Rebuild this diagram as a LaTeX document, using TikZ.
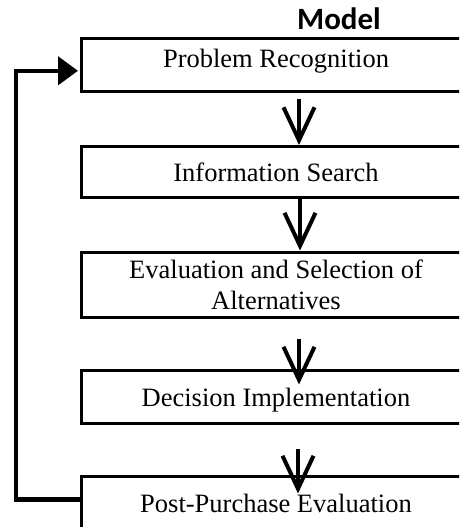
\documentclass[tikz,border=0pt]{standalone}
\usepackage{fontspec}
\setmainfont{Liberation Serif}
\newfontfamily\titlefont{Carlito}
\usetikzlibrary{arrows.meta}
\tikzset{
  stage/.style={draw, line width=3pt, rectangle, minimum width=390pt, inner sep=0pt,
    align=center, font=\fontsize{26.5}{31}\selectfont},
  flow/.style={line width=4pt, line join=miter, -{Straight Barb[length=33pt,width=31pt,line join=miter]}},
  back/.style={line width=4.5pt, line join=miter, -{Triangle[length=20pt,width=28pt]}}
}
\begin{document}
\begin{tikzpicture}[x=1pt,y=-1pt]
\useasboundingbox (0,0) rectangle (459,527);
\clip (0,0) rectangle (459,527);
\node[font=\titlefont\bfseries\fontsize{31}{36}\selectfont, anchor=base] (title) at (339,30) {Model};
\node[stage, minimum height=52pt, text height=10pt, text depth=6pt] (b1) at (276,65) {Problem Recognition};
\node[stage, minimum height=51pt, text height=25.4pt, text depth=6pt] (b2) at (276,172) {Information Search};
\node[stage, minimum height=65pt, text height=55pt, text depth=6pt] (b3) at (276,284.5) {Evaluation and Selection of\\Alternatives};
\node[stage, minimum height=53pt, text height=26.4pt, text depth=6pt] (b4) at (276,396.5) {Decision Implementation};
\node[stage, minimum height=52pt, text height=27.4pt, text depth=6pt] (b5) at (276,502) {Post-Purchase Evaluation};
\draw[flow] ([shift={(23,6)}]b1.south) -- ([shift={(23,0)}]b2.north);
\draw[flow] ([shift={(24,0)}]b2.south) -- ([shift={(24,0)}]b3.north);
\draw[flow] ([shift={(23,20)}]b3.south) -- ([shift={(23,16)}]b4.north);
\draw[flow] ([shift={(22,24)}]b4.south) -- ([shift={(22,19)}]b5.north);
\coordinate (c1) at (15.8,499.5);
\coordinate (c2) at (15.8,70.8);
\draw[back] ([shift={(0,-2.5)}]b5.west) -- (c1) -- (c2) -- ([shift={(-1.5,0)}]b1.west |- c2);
\end{tikzpicture}
\end{document}
